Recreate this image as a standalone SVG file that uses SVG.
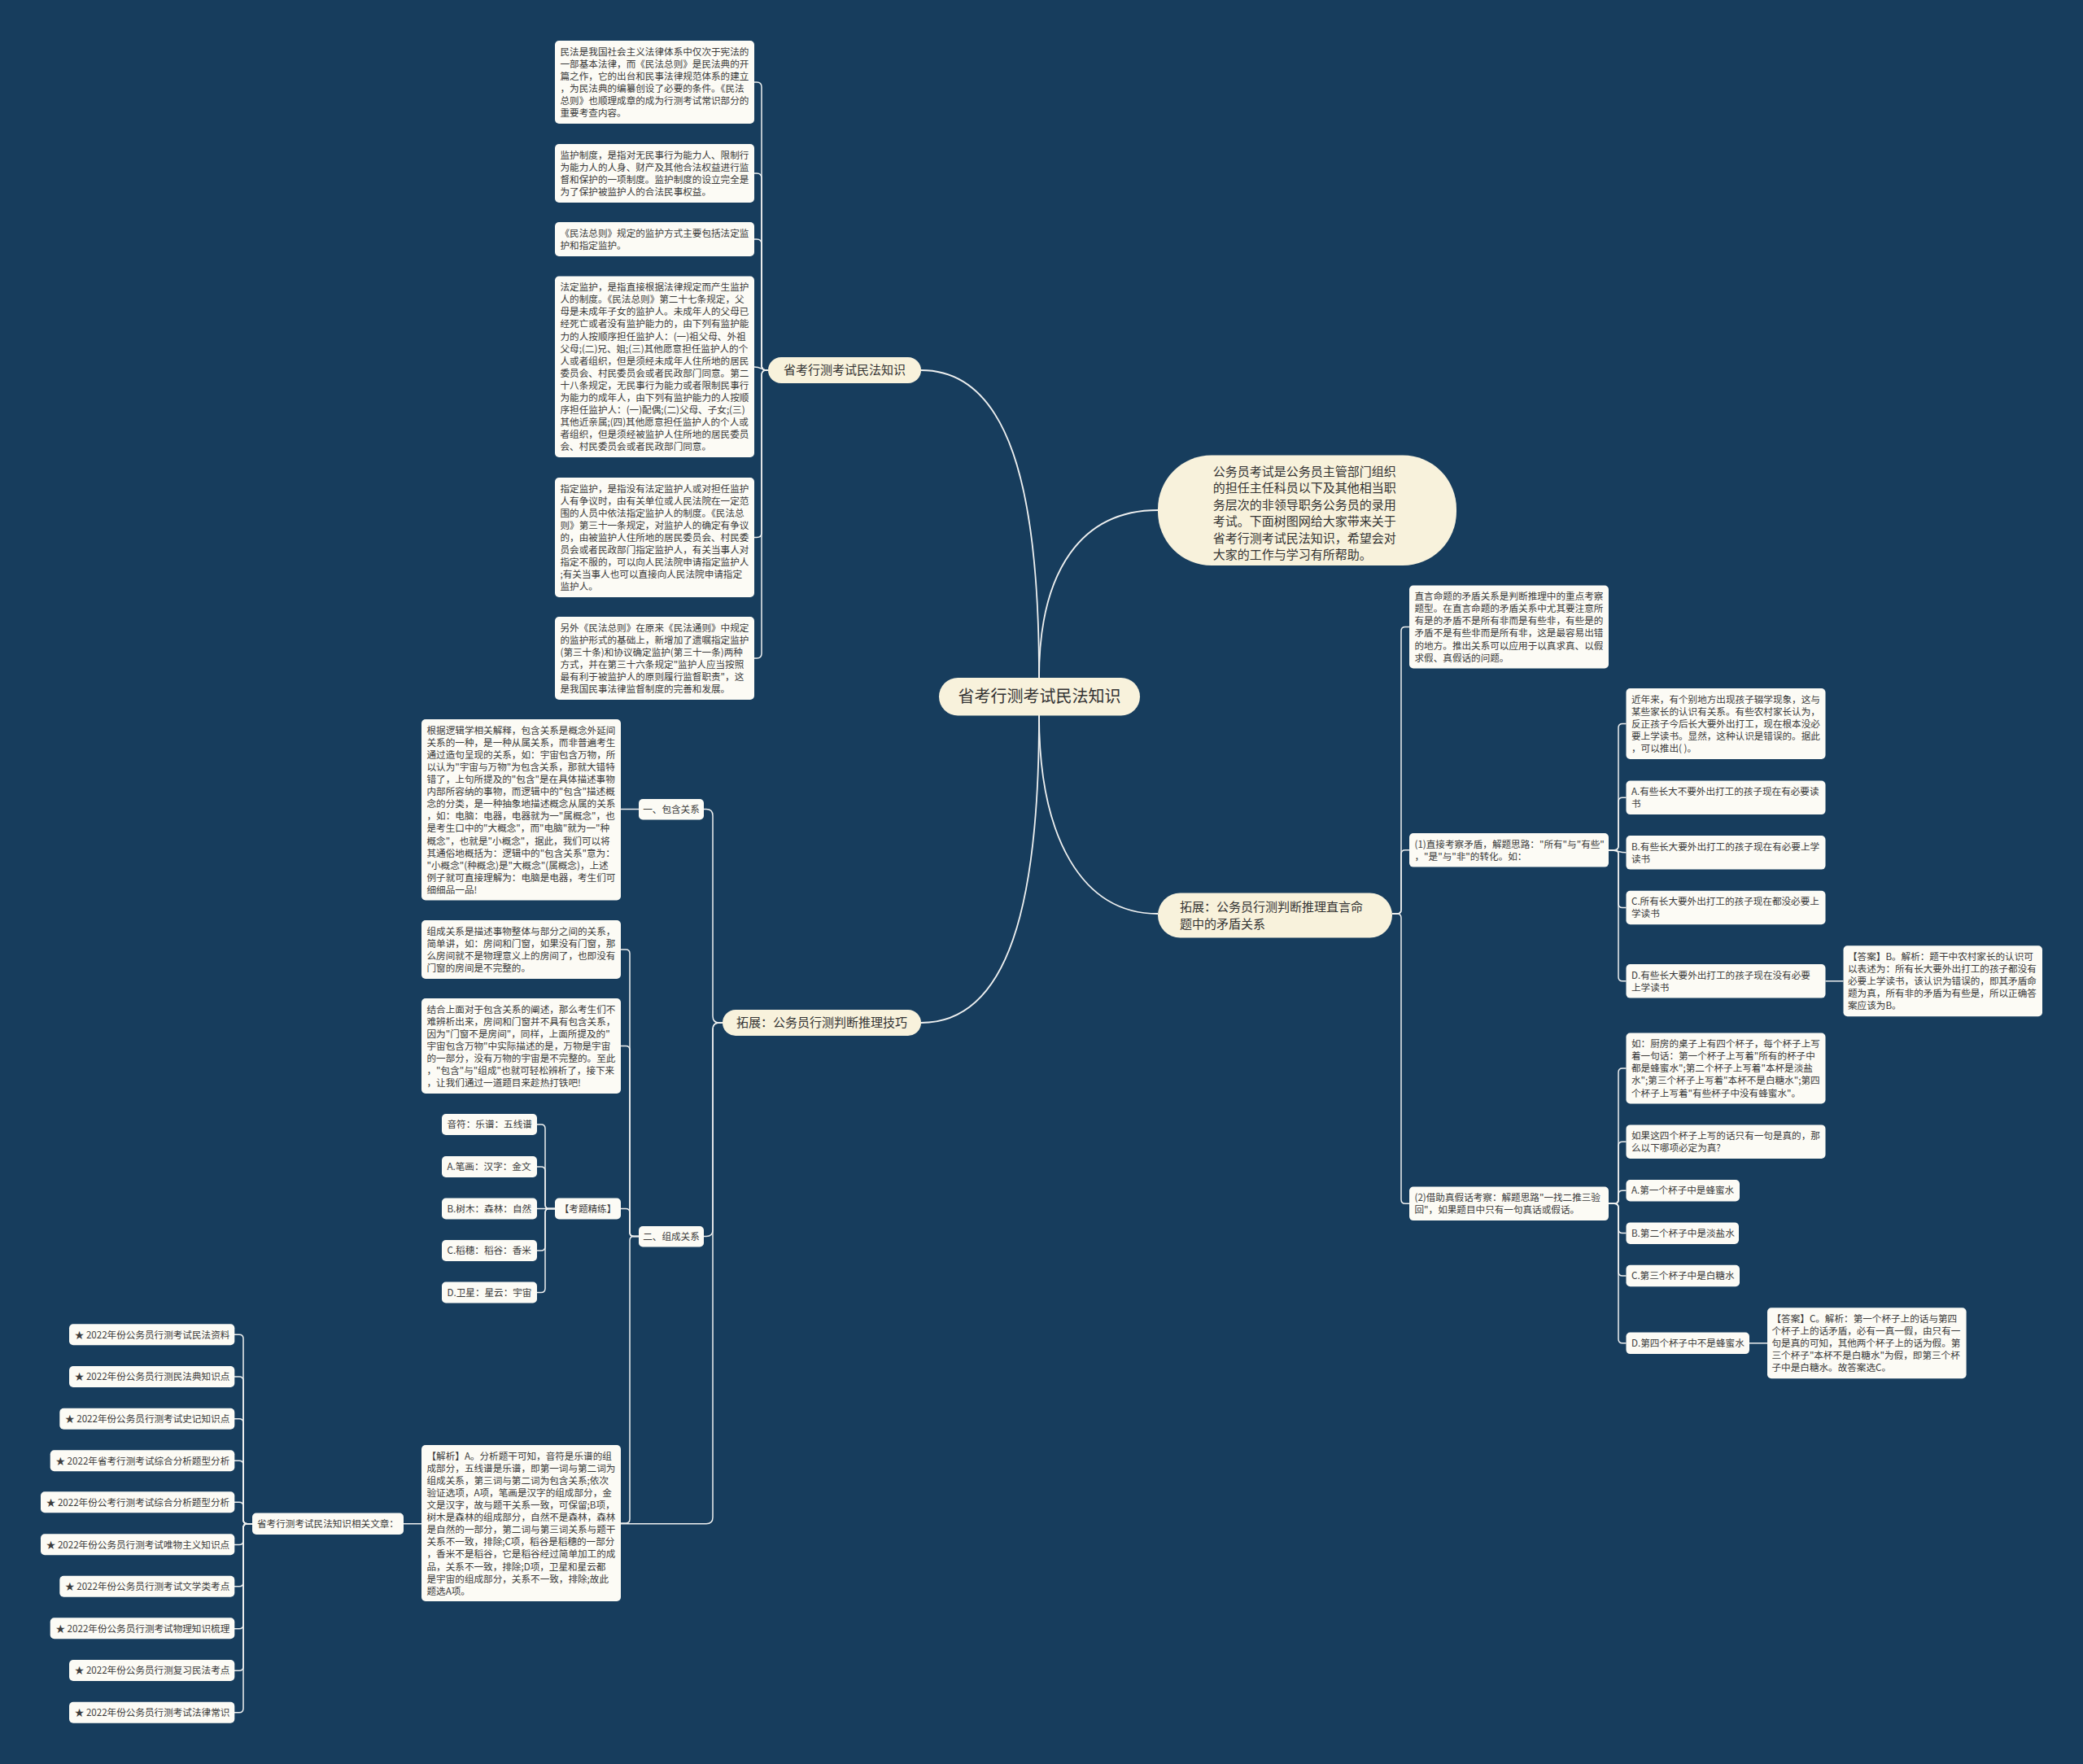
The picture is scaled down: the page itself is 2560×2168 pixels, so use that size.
<svg xmlns="http://www.w3.org/2000/svg" width="2560" height="2168" viewBox="0 0 2560 2168">
<style>
.bg{fill:#173d5d}
.leaf{fill:#fcfbf5}
.cream{fill:#f8f2dc}
.t{font-family:"Noto Sans CJK SC","Liberation Sans",sans-serif;font-size:11.6px;fill:#3a3a3a}
.tm{font-family:"Noto Sans CJK SC","Liberation Sans",sans-serif;font-size:15px;fill:#333}
.tc{font-family:"Noto Sans CJK SC","Liberation Sans",sans-serif;font-size:20px;fill:#333}
.conn path{fill:none;stroke:#eef0f0;stroke-width:1.5}
.conn path.m{stroke-width:1.8}
</style>
<rect class="bg" x="0" y="0" width="2560" height="2168"/>

<g id="connectors" class="conn">
<path class="m" d="M 1277 833 C 1277 600 1240 455 1132 455"/>
<path class="m" d="M 1277 833 C 1277 700 1330 627 1423 627"/>
<path class="m" d="M 1277 879 C 1277 1110 1240 1257 1132 1257"/>
<path class="m" d="M 1277 879 C 1277 1030 1330 1123 1423 1123"/>

<path d="M 944 455 H 942 Q 936 455 936 449 V 107 Q 936 101 930 101 H 927"/>
<path d="M 944 455 H 942 Q 936 455 936 449 V 219 Q 936 213 930 213 H 927"/>
<path d="M 944 455 H 942 Q 936 455 936 449 V 300 Q 936 294 930 294 H 927"/>
<path d="M 944 455 C 936 455 936 451 927 451"/>
<path d="M 944 455 H 942 Q 936 455 936 461 V 654.5 Q 936 660.5 930 660.5 H 927"/>
<path d="M 944 455 H 942 Q 936 455 936 461 V 803 Q 936 809 930 809 H 927"/>

<path d="M 888 1257 H 884 Q 876 1257 876 1249 V 1002.5 Q 876 994.5 868 994.5 H 865"/>
<path d="M 888 1257 H 884 Q 876 1257 876 1265 V 1511.5 Q 876 1519.5 868 1519.5 H 865"/>
<path d="M 888 1257 H 884 Q 876 1257 876 1265 V 1864.7 Q 876 1872.7 868 1872.7 H 496"/>

<path d="M 785 994.5 H 763"/>

<path d="M 785 1519.5 H 779 Q 774 1519.5 774 1514.5 V 1172 Q 774 1167 769 1167 H 763"/>
<path d="M 785 1519.5 H 779 Q 774 1519.5 774 1514.5 V 1290.5 Q 774 1285.5 769 1285.5 H 763"/>
<path d="M 785 1519.5 H 779 Q 774 1519.5 774 1514.5 V 1490.5 Q 774 1485.5 769 1485.5 H 763"/>
<path d="M 785 1519.5 H 779 Q 774 1519.5 774 1524.5 V 1867 Q 774 1872 769 1872 H 763"/>

<path d="M 682 1485.5 H 675 Q 670 1485.5 670 1480.5 V 1387 Q 670 1382 665 1382 H 660"/>
<path d="M 682 1485.5 H 675 Q 670 1485.5 670 1480.5 V 1439 Q 670 1434 665 1434 H 660"/>
<path d="M 682 1485.5 H 660"/>
<path d="M 682 1485.5 H 675 Q 670 1485.5 670 1490.5 V 1532 Q 670 1537 665 1537 H 660"/>
<path d="M 682 1485.5 H 675 Q 670 1485.5 670 1490.5 V 1583.5 Q 670 1588.5 665 1588.5 H 660"/>

<path d="M 310 1872.7 H 304 Q 299 1872.7 299 1867.7 V 1645.3 Q 299 1640.3 294 1640.3 H 288"/>
<path d="M 310 1872.7 H 304 Q 299 1872.7 299 1867.7 V 1697 Q 299 1692 294 1692 H 288"/>
<path d="M 310 1872.7 H 304 Q 299 1872.7 299 1867.7 V 1748.7 Q 299 1743.7 294 1743.7 H 288"/>
<path d="M 310 1872.7 H 304 Q 299 1872.7 299 1867.7 V 1800.3 Q 299 1795.3 294 1795.3 H 288"/>
<path d="M 310 1872.7 H 304 Q 299 1872.7 299 1867.7 V 1851.3 Q 299 1846.3 294 1846.3 H 288"/>
<path d="M 310 1872.7 H 304 Q 299 1872.7 299 1877.7 V 1893.5 Q 299 1898.5 294 1898.5 H 288"/>
<path d="M 310 1872.7 H 304 Q 299 1872.7 299 1877.7 V 1944.7 Q 299 1949.7 294 1949.7 H 288"/>
<path d="M 310 1872.7 H 304 Q 299 1872.7 299 1877.7 V 1996.7 Q 299 2001.7 294 2001.7 H 288"/>
<path d="M 310 1872.7 H 304 Q 299 1872.7 299 1877.7 V 2048.3 Q 299 2053.3 294 2053.3 H 288"/>
<path d="M 310 1872.7 H 304 Q 299 1872.7 299 1877.7 V 2099.7 Q 299 2104.7 294 2104.7 H 288"/>

<path d="M 1711 1123 H 1717 Q 1722 1123 1722 1118 V 775.5 Q 1722 770.5 1727 770.5 H 1732"/>
<path d="M 1711 1123 H 1717 Q 1722 1123 1722 1118 V 1049.8 Q 1722 1044.8 1727 1044.8 H 1732"/>
<path d="M 1711 1123 H 1717 Q 1722 1123 1722 1128 V 1474.3 Q 1722 1479.3 1727 1479.3 H 1732"/>

<path d="M 1977 1044.8 H 1984 Q 1989 1044.8 1989 1039.8 V 894.5 Q 1989 889.5 1994 889.5 H 1998.5"/>
<path d="M 1977 1044.8 H 1984 Q 1989 1044.8 1989 1039.8 V 985.3 Q 1989 980.3 1994 980.3 H 1998.5"/>
<path d="M 1977 1044.8 C 1989 1044.8 1989 1047.8 1998.5 1047.8"/>
<path d="M 1977 1044.8 H 1984 Q 1989 1044.8 1989 1049.8 V 1110.5 Q 1989 1115.5 1994 1115.5 H 1998.5"/>
<path d="M 1977 1044.8 H 1984 Q 1989 1044.8 1989 1049.8 V 1200.8 Q 1989 1205.8 1994 1205.8 H 1998.5"/>

<path d="M 1977 1479.3 H 1984 Q 1989 1479.3 1989 1474.3 V 1318 Q 1989 1313 1994 1313 H 1998.5"/>
<path d="M 1977 1479.3 H 1984 Q 1989 1479.3 1989 1474.3 V 1408.2 Q 1989 1403.2 1994 1403.2 H 1998.5"/>
<path d="M 1977 1479.3 H 1984 Q 1989 1479.3 1989 1474.3 V 1468.2 Q 1989 1463.2 1994 1463.2 H 1998.5"/>
<path d="M 1977 1479.3 H 1984 Q 1989 1479.3 1989 1484.3 V 1510.6 Q 1989 1515.6 1994 1515.6 H 1998.5"/>
<path d="M 1977 1479.3 H 1984 Q 1989 1479.3 1989 1484.3 V 1563 Q 1989 1568 1994 1568 H 1998.5"/>
<path d="M 1977 1479.3 H 1984 Q 1989 1479.3 1989 1484.3 V 1645.8 Q 1989 1650.8 1994 1650.8 H 1998.5"/>

<path d="M 2243.5 1205.8 H 2265.5"/>
<path d="M 2150 1650.8 H 2172"/>
</g>

<g id="center">
<rect class="cream" x="1154" y="833" width="247" height="46.5" rx="23.2"/>
<text class="tc" x="1277.5" y="863" text-anchor="middle">省考行测考试民法知识</text>
</g>

<g id="intro">
<rect class="cream" x="1423" y="559.5" width="367" height="135.5" rx="66"/>
<text class="tm" x="1490.7" y="584.6"><tspan x="1490.7">公务员考试是公务员主管部门组织</tspan><tspan x="1490.7" dy="20.5">的担任主任科员以下及其他相当职</tspan><tspan x="1490.7" dy="20.5">务层次的非领导职务公务员的录用</tspan><tspan x="1490.7" dy="20.5">考试。下面树图网给大家带来关于</tspan><tspan x="1490.7" dy="20.5">省考行测考试民法知识，希望会对</tspan><tspan x="1490.7" dy="20.5">大家的工作与学习有所帮助。</tspan></text>
</g>

<g id="branch-minfa">
<rect class="cream" x="944" y="439" width="188" height="32" rx="16"/>
<text class="tm" x="1038" y="460.3" text-anchor="middle">省考行测考试民法知识</text>
</g>

<g id="branch-tuili">
<rect class="cream" x="888" y="1241" width="244" height="32" rx="16"/>
<text class="tm" x="1010" y="1262.3" text-anchor="middle">拓展：公务员行测判断推理技巧</text>
</g>

<g id="branch-maodun">
<rect class="cream" x="1423" y="1097.5" width="288" height="55" rx="27.5"/>
<text class="tm" x="1450" y="1120.3"><tspan x="1450">拓展：公务员行测判断推理直言命</tspan><tspan x="1450" dy="20.7">题中的矛盾关系</tspan></text>
</g>

<g id="mf1">
<rect class="leaf" x="682" y="50" width="245" height="102" rx="5"/>
<text class="t" x="688.5" y="67.6"><tspan x="688.5">民法是我国社会主义法律体系中仅次于宪法的</tspan><tspan x="688.5" dy="15.1">一部基本法律，而《民法总则》是民法典的开</tspan><tspan x="688.5" dy="15.1">篇之作，它的出台和民事法律规范体系的建立</tspan><tspan x="688.5" dy="15.1">，为民法典的编纂创设了必要的条件。《民法</tspan><tspan x="688.5" dy="15.1">总则》也顺理成章的成为行测考试常识部分的</tspan><tspan x="688.5" dy="15.1">重要考查内容。</tspan></text>
</g>
<g id="mf2">
<rect class="leaf" x="682" y="177" width="245" height="72" rx="5"/>
<text class="t" x="688.5" y="194.6"><tspan x="688.5">监护制度，是指对无民事行为能力人、限制行</tspan><tspan x="688.5" dy="15.1">为能力人的人身、财产及其他合法权益进行监</tspan><tspan x="688.5" dy="15.1">督和保护的一项制度。监护制度的设立完全是</tspan><tspan x="688.5" dy="15.1">为了保护被监护人的合法民事权益。</tspan></text>
</g>
<g id="mf3">
<rect class="leaf" x="682" y="273" width="245" height="42" rx="5"/>
<text class="t" x="688.5" y="290.6"><tspan x="688.5">《民法总则》规定的监护方式主要包括法定监</tspan><tspan x="688.5" dy="15.1">护和指定监护。</tspan></text>
</g>
<g id="mf4">
<rect class="leaf" x="682" y="339.5" width="245" height="222.5" rx="5"/>
<text class="t" x="688.5" y="357.1"><tspan x="688.5">法定监护，是指直接根据法律规定而产生监护</tspan><tspan x="688.5" dy="15.1">人的制度。《民法总则》第二十七条规定，父</tspan><tspan x="688.5" dy="15.1">母是未成年子女的监护人。未成年人的父母已</tspan><tspan x="688.5" dy="15.1">经死亡或者没有监护能力的，由下列有监护能</tspan><tspan x="688.5" dy="15.1">力的人按顺序担任监护人：(一)祖父母、外祖</tspan><tspan x="688.5" dy="15.1">父母;(二)兄、姐;(三)其他愿意担任监护人的个</tspan><tspan x="688.5" dy="15.1">人或者组织，但是须经未成年人住所地的居民</tspan><tspan x="688.5" dy="15.1">委员会、村民委员会或者民政部门同意。第二</tspan><tspan x="688.5" dy="15.1">十八条规定，无民事行为能力或者限制民事行</tspan><tspan x="688.5" dy="15.1">为能力的成年人，由下列有监护能力的人按顺</tspan><tspan x="688.5" dy="15.1">序担任监护人：(一)配偶;(二)父母、子女;(三)</tspan><tspan x="688.5" dy="15.1">其他近亲属;(四)其他愿意担任监护人的个人或</tspan><tspan x="688.5" dy="15.1">者组织，但是须经被监护人住所地的居民委员</tspan><tspan x="688.5" dy="15.1">会、村民委员会或者民政部门同意。</tspan></text>
</g>
<g id="mf5">
<rect class="leaf" x="682" y="587" width="245" height="147" rx="5"/>
<text class="t" x="688.5" y="604.6"><tspan x="688.5">指定监护，是指没有法定监护人或对担任监护</tspan><tspan x="688.5" dy="15.1">人有争议时，由有关单位或人民法院在一定范</tspan><tspan x="688.5" dy="15.1">围的人员中依法指定监护人的制度。《民法总</tspan><tspan x="688.5" dy="15.1">则》第三十一条规定，对监护人的确定有争议</tspan><tspan x="688.5" dy="15.1">的，由被监护人住所地的居民委员会、村民委</tspan><tspan x="688.5" dy="15.1">员会或者民政部门指定监护人，有关当事人对</tspan><tspan x="688.5" dy="15.1">指定不服的，可以向人民法院申请指定监护人</tspan><tspan x="688.5" dy="15.1">;有关当事人也可以直接向人民法院申请指定</tspan><tspan x="688.5" dy="15.1">监护人。</tspan></text>
</g>
<g id="mf6">
<rect class="leaf" x="682" y="758" width="245" height="102" rx="5"/>
<text class="t" x="688.5" y="775.6"><tspan x="688.5">另外《民法总则》在原来《民法通则》中规定</tspan><tspan x="688.5" dy="15.1">的监护形式的基础上，新增加了遗嘱指定监护</tspan><tspan x="688.5" dy="15.1">(第三十条)和协议确定监护(第三十一条)两种</tspan><tspan x="688.5" dy="15.1">方式，并在第三十六条规定"监护人应当按照</tspan><tspan x="688.5" dy="15.1">最有利于被监护人的原则履行监督职责"，这</tspan><tspan x="688.5" dy="15.1">是我国民事法律监督制度的完善和发展。</tspan></text>
</g>

<g id="baohan-node">
<rect class="leaf" x="785" y="982" width="80" height="25.5" rx="5"/>
<text class="t" x="825" y="998.8" text-anchor="middle">一、包含关系</text>
</g>
<g id="zucheng-node">
<rect class="leaf" x="785" y="1507" width="80" height="25.5" rx="5"/>
<text class="t" x="825" y="1523.8" text-anchor="middle">二、组成关系</text>
</g>

<g id="baohan-text">
<rect class="leaf" x="518" y="884" width="245" height="222.5" rx="5"/>
<text class="t" x="524.5" y="901.6"><tspan x="524.5">根据逻辑学相关解释，包含关系是概念外延间</tspan><tspan x="524.5" dy="15.1">关系的一种，是一种从属关系，而非普遍考生</tspan><tspan x="524.5" dy="15.1">通过造句呈现的关系，如：宇宙包含万物，所</tspan><tspan x="524.5" dy="15.1">以认为"宇宙与万物"为包含关系，那就大错特</tspan><tspan x="524.5" dy="15.1">错了，上句所提及的"包含"是在具体描述事物</tspan><tspan x="524.5" dy="15.1">内部所容纳的事物，而逻辑中的"包含"描述概</tspan><tspan x="524.5" dy="15.1">念的分类，是一种抽象地描述概念从属的关系</tspan><tspan x="524.5" dy="15.1">，如：电脑：电器，电器就为一"属概念"，也</tspan><tspan x="524.5" dy="15.1">是考生口中的"大概念"，而"电脑"就为一"种</tspan><tspan x="524.5" dy="15.1">概念"，也就是"小概念"，据此，我们可以将</tspan><tspan x="524.5" dy="15.1">其通俗地概括为：逻辑中的"包含关系"意为：</tspan><tspan x="524.5" dy="15.1">"小概念"(种概念)是"大概念"(属概念)，上述</tspan><tspan x="524.5" dy="15.1">例子就可直接理解为：电脑是电器，考生们可</tspan><tspan x="524.5" dy="15.1">细细品一品!</tspan></text>
</g>
<g id="zucheng-text">
<rect class="leaf" x="518" y="1131" width="245" height="72" rx="5"/>
<text class="t" x="524.5" y="1148.6"><tspan x="524.5">组成关系是描述事物整体与部分之间的关系，</tspan><tspan x="524.5" dy="15.1">简单讲，如：房间和门窗，如果没有门窗，那</tspan><tspan x="524.5" dy="15.1">么房间就不是物理意义上的房间了，也即没有</tspan><tspan x="524.5" dy="15.1">门窗的房间是不完整的。</tspan></text>
</g>
<g id="jiehe-text">
<rect class="leaf" x="518" y="1227" width="245" height="117" rx="5"/>
<text class="t" x="524.5" y="1244.6"><tspan x="524.5">结合上面对于包含关系的阐述，那么考生们不</tspan><tspan x="524.5" dy="15.1">难辨析出来，房间和门窗并不具有包含关系，</tspan><tspan x="524.5" dy="15.1">因为"门窗不是房间"，同样，上面所提及的"</tspan><tspan x="524.5" dy="15.1">宇宙包含万物"中实际描述的是，万物是宇宙</tspan><tspan x="524.5" dy="15.1">的一部分，没有万物的宇宙是不完整的。至此</tspan><tspan x="524.5" dy="15.1">，"包含"与"组成"也就可轻松辨析了，接下来</tspan><tspan x="524.5" dy="15.1">，让我们通过一道题目来趁热打铁吧!</tspan></text>
</g>
<g id="kaoti">
<rect class="leaf" x="682" y="1472.5" width="81" height="26" rx="5"/>
<text class="t" x="722.5" y="1489.7" text-anchor="middle">【考题精练】</text>
</g>
<g id="opt0"><rect class="leaf" x="543" y="1369" width="117" height="26" rx="5"/><text class="t" x="549.5" y="1386.2">音符：乐谱：五线谱</text></g>
<g id="optA"><rect class="leaf" x="543" y="1421" width="117" height="26" rx="5"/><text class="t" x="549.5" y="1438.2">A.笔画：汉字：金文</text></g>
<g id="optB"><rect class="leaf" x="543" y="1472.5" width="117" height="26" rx="5"/><text class="t" x="549.5" y="1489.7">B.树木：森林：自然</text></g>
<g id="optC"><rect class="leaf" x="543" y="1524" width="117" height="26" rx="5"/><text class="t" x="549.5" y="1541.2">C.稻穗：稻谷：香米</text></g>
<g id="optD"><rect class="leaf" x="543" y="1575.5" width="117" height="26" rx="5"/><text class="t" x="549.5" y="1592.7">D.卫星：星云：宇宙</text></g>
<g id="jiexi">
<rect class="leaf" x="518" y="1776" width="245" height="192" rx="5"/>
<text class="t" x="524.5" y="1793.6"><tspan x="524.5">【解析】A。分析题干可知，音符是乐谱的组</tspan><tspan x="524.5" dy="15.1">成部分，五线谱是乐谱，即第一词与第二词为</tspan><tspan x="524.5" dy="15.1">组成关系，第三词与第二词为包含关系;依次</tspan><tspan x="524.5" dy="15.1">验证选项，A项，笔画是汉字的组成部分，金</tspan><tspan x="524.5" dy="15.1">文是汉字，故与题干关系一致，可保留;B项，</tspan><tspan x="524.5" dy="15.1">树木是森林的组成部分，自然不是森林，森林</tspan><tspan x="524.5" dy="15.1">是自然的一部分，第二词与第三词关系与题干</tspan><tspan x="524.5" dy="15.1">关系不一致，排除;C项，稻谷是稻穗的一部分</tspan><tspan x="524.5" dy="15.1">，香米不是稻谷，它是稻谷经过简单加工的成</tspan><tspan x="524.5" dy="15.1">品，关系不一致，排除;D项，卫星和星云都</tspan><tspan x="524.5" dy="15.1">是宇宙的组成部分，关系不一致，排除;故此</tspan><tspan x="524.5" dy="15.1">题选A项。</tspan></text>
</g>

<g id="related">
<rect class="leaf" x="310" y="1859.5" width="186" height="26.5" rx="5"/>
<text class="t" x="316" y="1876.9">省考行测考试民法知识相关文章：</text>
</g>
<g id="rel1"><rect class="leaf" x="85" y="1627.3" width="203.3" height="26" rx="5"/><text class="t" x="91.7" y="1644.5">★ 2022年份公务员行测考试民法资料</text></g>
<g id="rel2"><rect class="leaf" x="85" y="1679" width="203.3" height="26" rx="5"/><text class="t" x="91.7" y="1696.2">★ 2022年份公务员行测民法典知识点</text></g>
<g id="rel3"><rect class="leaf" x="73.3" y="1730.7" width="215" height="26" rx="5"/><text class="t" x="80" y="1747.9">★ 2022年份公务员行测考试史记知识点</text></g>
<g id="rel4"><rect class="leaf" x="61.7" y="1782.3" width="226.6" height="26" rx="5"/><text class="t" x="68.4" y="1799.5">★ 2022年省考行测考试综合分析题型分析</text></g>
<g id="rel5"><rect class="leaf" x="50" y="1833.3" width="238.3" height="26" rx="5"/><text class="t" x="56.7" y="1850.5">★ 2022年份公考行测考试综合分析题型分析</text></g>
<g id="rel6"><rect class="leaf" x="50" y="1885.3" width="238.3" height="26" rx="5"/><text class="t" x="56.7" y="1902.5">★ 2022年份公务员行测考试唯物主义知识点</text></g>
<g id="rel7"><rect class="leaf" x="73.3" y="1936.7" width="215" height="26" rx="5"/><text class="t" x="80" y="1953.9">★ 2022年份公务员行测考试文学类考点</text></g>
<g id="rel8"><rect class="leaf" x="61.7" y="1988.3" width="226.6" height="26" rx="5"/><text class="t" x="68.4" y="2005.5">★ 2022年份公务员行测考试物理知识梳理</text></g>
<g id="rel9"><rect class="leaf" x="85" y="2040" width="203.3" height="26" rx="5"/><text class="t" x="91.7" y="2057.2">★ 2022年份公务员行测复习民法考点</text></g>
<g id="rel10"><rect class="leaf" x="85" y="2091.7" width="203.3" height="26" rx="5"/><text class="t" x="91.7" y="2108.9">★ 2022年份公务员行测考试法律常识</text></g>

<g id="zhiyan">
<rect class="leaf" x="1732" y="719.5" width="245" height="102" rx="5"/>
<text class="t" x="1738.5" y="737.1"><tspan x="1738.5">直言命题的矛盾关系是判断推理中的重点考察</tspan><tspan x="1738.5" dy="15.1">题型。在直言命题的矛盾关系中尤其要注意所</tspan><tspan x="1738.5" dy="15.1">有是的矛盾不是所有非而是有些非，有些是的</tspan><tspan x="1738.5" dy="15.1">矛盾不是有些非而是所有非，这是最容易出错</tspan><tspan x="1738.5" dy="15.1">的地方。推出关系可以应用于以真求真、以假</tspan><tspan x="1738.5" dy="15.1">求假、真假话的问题。</tspan></text>
</g>
<g id="q1">
<rect class="leaf" x="1732" y="1024" width="245" height="41.6" rx="5"/>
<text class="t" x="1738.5" y="1041.6"><tspan x="1738.5">(1)直接考察矛盾，解题思路："所有"与"有些"</tspan><tspan x="1738.5" dy="15.1">，"是"与"非"的转化。如：</tspan></text>
</g>
<g id="q2">
<rect class="leaf" x="1732" y="1458.5" width="245" height="41.6" rx="5"/>
<text class="t" x="1738.5" y="1476.1"><tspan x="1738.5">(2)借助真假话考察：解题思路"一找二推三验</tspan><tspan x="1738.5" dy="15.1">回"，如果题目中只有一句真话或假话。</tspan></text>
</g>

<g id="q1-stem">
<rect class="leaf" x="1998.5" y="846" width="245" height="87" rx="5"/>
<text class="t" x="2005" y="863.6"><tspan x="2005">近年来，有个别地方出现孩子辍学现象，这与</tspan><tspan x="2005" dy="15.1">某些家长的认识有关系。有些农村家长认为，</tspan><tspan x="2005" dy="15.1">反正孩子今后长大要外出打工，现在根本没必</tspan><tspan x="2005" dy="15.1">要上学读书。显然，这种认识是错误的。据此</tspan><tspan x="2005" dy="15.1">，可以推出( )。</tspan></text>
</g>
<g id="q1-A"><rect class="leaf" x="1998.5" y="959.5" width="245" height="41.6" rx="5"/><text class="t" x="2005" y="977.1"><tspan x="2005">A.有些长大不要外出打工的孩子现在有必要读</tspan><tspan x="2005" dy="15.1">书</tspan></text></g>
<g id="q1-B"><rect class="leaf" x="1998.5" y="1027" width="245" height="41.6" rx="5"/><text class="t" x="2005" y="1044.6"><tspan x="2005">B.有些长大要外出打工的孩子现在有必要上学</tspan><tspan x="2005" dy="15.1">读书</tspan></text></g>
<g id="q1-C"><rect class="leaf" x="1998.5" y="1094.7" width="245" height="41.6" rx="5"/><text class="t" x="2005" y="1112.3"><tspan x="2005">C.所有长大要外出打工的孩子现在都没必要上</tspan><tspan x="2005" dy="15.1">学读书</tspan></text></g>
<g id="q1-D"><rect class="leaf" x="1998.5" y="1185" width="245" height="41.6" rx="5"/><text class="t" x="2005" y="1202.6"><tspan x="2005">D.有些长大要外出打工的孩子现在没有必要</tspan><tspan x="2005" dy="15.1">上学读书</tspan></text></g>
<g id="q1-ans">
<rect class="leaf" x="2265.5" y="1162.3" width="244.5" height="87" rx="5"/>
<text class="t" x="2271" y="1179.9"><tspan x="2271">【答案】B。解析：题干中农村家长的认识可</tspan><tspan x="2271" dy="15.1">以表述为：所有长大要外出打工的孩子都没有</tspan><tspan x="2271" dy="15.1">必要上学读书，该认识为错误的，即其矛盾命</tspan><tspan x="2271" dy="15.1">题为真，所有非的矛盾为有些是，所以正确答</tspan><tspan x="2271" dy="15.1">案应该为B。</tspan></text>
</g>

<g id="q2-stem">
<rect class="leaf" x="1998.5" y="1269.5" width="245" height="87" rx="5"/>
<text class="t" x="2005" y="1287.1"><tspan x="2005">如：厨房的桌子上有四个杯子，每个杯子上写</tspan><tspan x="2005" dy="15.1">着一句话：第一个杯子上写着"所有的杯子中</tspan><tspan x="2005" dy="15.1">都是蜂蜜水";第二个杯子上写着"本杯是淡盐</tspan><tspan x="2005" dy="15.1">水";第三个杯子上写着"本杯不是白糖水";第四</tspan><tspan x="2005" dy="15.1">个杯子上写着"有些杯子中没有蜂蜜水"。</tspan></text>
</g>
<g id="q2-ask"><rect class="leaf" x="1998.5" y="1382.4" width="245" height="41.6" rx="5"/><text class="t" x="2005" y="1400"><tspan x="2005">如果这四个杯子上写的话只有一句是真的，那</tspan><tspan x="2005" dy="15.1">么以下哪项必定为真?</tspan></text></g>
<g id="q2-A"><rect class="leaf" x="1998.5" y="1450" width="139.5" height="26.5" rx="5"/><text class="t" x="2005" y="1467.4">A.第一个杯子中是蜂蜜水</text></g>
<g id="q2-B"><rect class="leaf" x="1998.5" y="1502.4" width="138.5" height="26.5" rx="5"/><text class="t" x="2005" y="1519.8">B.第二个杯子中是淡盐水</text></g>
<g id="q2-C"><rect class="leaf" x="1998.5" y="1554.8" width="139.5" height="26.5" rx="5"/><text class="t" x="2005" y="1572.2">C.第三个杯子中是白糖水</text></g>
<g id="q2-D"><rect class="leaf" x="1998.5" y="1637.6" width="151.5" height="26.5" rx="5"/><text class="t" x="2005" y="1655">D.第四个杯子中不是蜂蜜水</text></g>
<g id="q2-ans">
<rect class="leaf" x="2172" y="1607.2" width="244.6" height="87" rx="5"/>
<text class="t" x="2177.5" y="1624.8"><tspan x="2177.5">【答案】C。解析：第一个杯子上的话与第四</tspan><tspan x="2177.5" dy="15.1">个杯子上的话矛盾，必有一真一假，由只有一</tspan><tspan x="2177.5" dy="15.1">句是真的可知，其他两个杯子上的话为假。第</tspan><tspan x="2177.5" dy="15.1">三个杯子"本杯不是白糖水"为假，即第三个杯</tspan><tspan x="2177.5" dy="15.1">子中是白糖水。故答案选C。</tspan></text>
</g>
</svg>
